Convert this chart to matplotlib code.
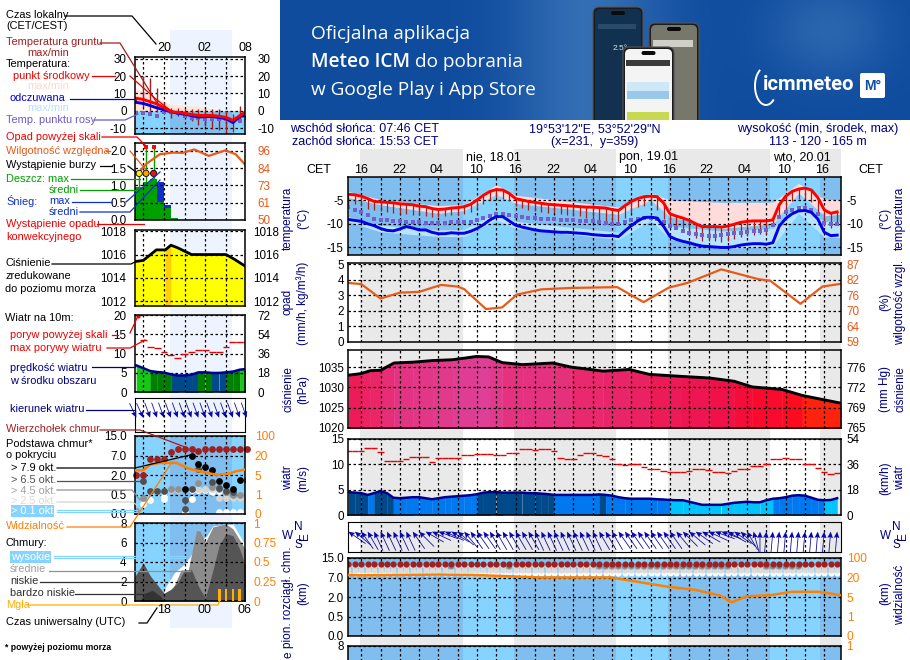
import numpy as np
import matplotlib
matplotlib.use("Agg")
import matplotlib.pyplot as plt
from matplotlib.colors import LinearSegmentedColormap
from matplotlib.patches import FancyBboxPatch, Rectangle, Arc

plt.rcParams['font.family'] = ['Liberation Sans', 'DejaVu Sans']
plt.rcParams['font.size'] = 8.4

W, H = 910, 660

# ---- main panel data, one value an hour, hour 0 = 16:00 on the first day
hours = list(range(-2, 75))
temp_mid = [-3.8,-3.9,-4.2,-4.7,-5.3,-5.4,-5.5,-5.6,-5.8,-5.9,-6.0,-6.3,-6.4,-6.8,-7.0,-6.9,-6.7,-6.6,-6.4,-5.9,
            -5.0,-4.0,-3.2,-2.8,-2.9,-3.6,-4.7,-5.0,-5.3,-5.5,-5.7,-5.9,-6.0,-6.1,-6.2,-6.3,-6.4,-6.5,-6.5,-6.6,
            -6.7,-7.0,-7.2,-6.2,-5.3,-4.7,-4.3,-4.2,-4.3,-5.6,-7.9,-8.4,-8.8,-9.3,-10.0,-10.6,-10.6,-10.6,-10.7,-10.5,
            -10.1,-9.7,-9.5,-9.4,-9.4,-9.4,-9.2,-6.0,-4.2,-3.2,-2.7,-2.5,-2.9,-4.5,-7.1,-7.8,-7.5]
temp_feel = [-9.1,-9.3,-9.5,-10.0,-10.4,-11.0,-11.4,-11.5,-11.1,-10.6,-10.9,-11.3,-11.3,-11.8,-12.1,-12.1,-11.9,-12.0,-12.0,-11.6,
             -11.0,-10.2,-9.2,-8.5,-8.5,-9.4,-10.3,-10.7,-11.0,-11.3,-11.5,-11.6,-11.7,-11.8,-11.8,-11.9,-12.0,-12.1,-12.3,-12.4,
             -12.5,-12.5,-12.7,-11.5,-10.4,-9.4,-8.7,-8.6,-8.8,-10.5,-12.7,-13.3,-13.7,-14.0,-14.4,-14.7,-14.8,-14.9,-15.0,-15.0,
             -14.8,-14.5,-14.3,-14.2,-14.2,-14.3,-14.0,-10.5,-8.9,-7.9,-7.3,-7.2,-7.6,-9.0,-11.8,-12.5,-12.4]
soil_min = [-6,-5.8,-6.3,-6.8,-7.2,-7.4,-7.6,-7.7,-7.9,-7.9,-8.1,-8.2,-8.3,-8.5,-8.6,-8.4,-8.2,-8.2,-7.9,-7.6,
            -6.8,-5.8,-5.0,-4.6,-4.8,-5.2,-6.3,-6.7,-7.0,-7.3,-7.5,-7.7,-7.8,-7.9,-8.1,-8.3,-8.4,-8.7,-8.9,-9.4,
            -10.0,-10.3,-10.0,-8.8,-7.8,-6.5,-6.2,-6.0,-7.0,-9.0,-10.5,-11.2,-11.8,-12.3,-12.9,-13.6,-13.7,-13.6,-13.9,-13.6,
            -13.2,-12.7,-12.5,-12.3,-12.2,-12.1,-10.5,-8.5,-7.0,-5.3,-4.8,-4.7,-5.5,-7.5,-10.5,-11.0,-10.2]
dew_point = [-6.5,-7.1,-7.6,-8.2,-8.9,-9.2,-9.3,-9.4,-9.5,-9.6,-9.7,-9.7,-9.8,-9.9,-9.9,-9.8,-9.7,-9.7,-9.7,-9.6,
             -9.3,-8.8,-8.3,-8.0,-8.0,-8.1,-8.3,-8.5,-8.7,-8.8,-8.9,-9.0,-9.1,-9.2,-9.2,-9.3,-9.4,-9.4,-9.5,-9.7,
             -9.9,-10.0,-10.1,-9.6,-9.2,-8.9,-8.7,-8.7,-8.9,-9.6,-10.5,-11.0,-11.5,-11.9,-12.2,-12.4,-12.5,-12.5,-12.4,-12.2,
             -12.0,-11.9,-11.8,-11.6,-11.5,-11.3,-10.2,-8.6,-7.6,-7.0,-6.7,-6.7,-7.0,-8.0,-9.8,-10.0,-10.0]
band_hours = [-2, 3, 12, 16, 21, 24, 40, 45, 48, 56, 64, 68, 72, 74.6]
temp_hi = [-3.2, -4.9, -6.2, -5.9, -1.8, -4.0, -6.5, -3.5, -5.0, -5.5, -5.5, -1.5, -4.8, -5.0]
temp_lo = [-4.5, -6.0, -7.8, -7.2, -3.8, -5.7, -8.0, -5.0, -8.5, -11.0, -10.0, -3.5, -8.3, -8.0]
feel_hi = [-8.5, -10.3, -11.3, -11.2, -7.7, -9.5, -11.8, -7.8, -10.5, -11.5, -11.0, -6.0, -9.5, -9.5]
feel_lo = [-9.6, -11.7, -12.7, -12.7, -9.2, -11.0, -13.3, -9.2, -13.3, -15.3, -14.7, -7.8, -12.8, -12.9]

rh_hours = [-2, 0, 3, 6, 9, 12.4, 15, 16, 19.4, 21.9, 24.2, 28, 32.5, 39.8, 43.9, 47.8, 50.7, 56, 61.7, 63.6, 68.3, 71.7, 74.6]
rh = [80.2, 79.8, 74.6, 76.7, 77, 79.5, 78.9, 78, 70.8, 71.4, 76, 77.9, 78.4, 78.7, 73.3, 78.5, 80.2, 85.1, 81.6, 81, 72.7, 78.9, 79.9]

slp_hours = [-2, 0, 1.4, 3, 5.1, 8, 11.1, 14.2, 17.9, 19.8, 21.9, 25.1, 29.8, 32.6, 37.6, 41.7, 44.8, 49.8, 54.2, 58, 60.8, 65.4, 68.6, 74.6]
slp = [1033, 1033.4, 1034.1, 1034.2, 1036, 1036.2, 1036.6, 1036.8, 1037.6, 1037.5, 1036.1, 1035.6, 1036, 1035, 1034, 1034.4,
       1033.2, 1032.7, 1032.3, 1031.5, 1030.1, 1029.5, 1028, 1026.1]

wind_speed = [4.5,4.4,4.3,3.95,4.3,4.7,4.3,3.4,3.3,3.4,3.5,3.5,3.3,3.1,3.3,3.5,3.6,3.7,3.8,3.9,
              4.1,4.4,4.5,4.5,4.4,4.4,4.4,4.4,4.3,4.3,4.2,4.1,3.95,3.95,3.95,3.95,3.95,3.95,3.95,4.05,
              3.95,3.8,3.5,3.3,3.2,3.2,3.2,3.2,3.1,3.05,2.95,2.9,2.9,2.6,2.3,2.0,2.0,2.0,2.0,2.2,
              2.4,2.5,2.6,2.5,2.5,2.9,3.2,3.3,3.5,3.8,3.9,3.8,3.4,3.0,2.9,2.95,3.3]
wind_gust = [12.6,12.6,12.6,13.1,13.1,12.4,10.7,10.7,10.7,11,11.5,11.5,11.5,10.5,11.3,11.3,11.3,11.3,11.8,11.8,
             12,12,12,11.8,11.8,12.2,12.2,12.9,12.9,12.7,13,13,12.6,11.3,11.1,11.1,11.9,12.2,12.2,11.9,
             11.6,11.1,10,9.8,10,10,9.5,9,9,8.7,8.5,8.5,8.5,8.7,9,9,8.8,8.5,8.5,8.2,
             8.6,9,9,9.7,9.7,10,11,11,11.2,11,11,10.1,10.1,9.3,8.5,8,8.2]
wind_heading = [305,310,325,330,335,335,335,335,335,335,325,315,300,295,290,295,300,310,320,325,
                325,325,330,330,330,330,330,330,330,335,335,335,335,335,335,335,335,335,335,330,
                330,330,325,325,325,325,325,325,325,325,325,320,315,310,305,300,295,290,290,300,
                305,315,330,345,0,5,5,5,5,5,5,5,5,5,5,5,5]
darker_cloud_hours = [14, 23] + list(range(37, 58)) + list(range(63, 69))

vis_hours = [-2, 0, 12, 18, 28, 38.8, 41.3, 43.8, 47.5, 51.9, 55.7, 57.6, 59.8, 63.8, 66.9, 71.1, 74.6]
visibility = [30.7, 29, 32, 30, 20, 20, 18, 16, 13, 10.5, 6.3, 3.9, 5.4, 6.5, 9, 9, 6.4]

# ---- legend panels on the left, hour 20 = 20:00 local
lh = list(range(16, 33))
l_temp = [7.2,6.5,5.2,3.9,1.8,-0.4,-1.0,-1.4,-2.2,-2.7,-2.7,-2.7,-3.2,-3.8,-5.5,-2.8,-0.2]
l_feel = [4.8,4.2,3,1.6,0.6,-0.6,-1.4,-2,-2.8,-3.6,-3.4,-3.3,-3.9,-4.6,-6.8,-3.3,-2.6]
l_dew = [-1.5,-1.5,-2,-3,-1,-1,-1.5,-3,-4,-4,-4.5,-5,-5,-5,-6,-6,-4]
l_soil_hi = [8,20,19,13,5,1.5,1.5,1,1,1,1,1,1,0,-2,2.5,1]
l_soil_lo = [5,2,0,-1,-1,-4,-3,-3.5,-6,-8,-9,-10.5,-11,-13,-12,-6,-2]
l_band_h = [15.8, 19, 21, 25, 29, 30, 31.8]
l_temp_hi = [13, 7.3, 3.5, 2.5, -0.4, -2.2, -0.4]

l_rain_h = [15.8, 17, 18, 19, 20, 21]
l_rain = [0.96, 1.1, 1.2, 0.53, 0.34, 0.07]
l_snow = [0, 0, 0, 1.1, 0.43, 0]
l_rh_h = [15.8, 16.4, 17.5, 19.4, 21.3, 22.7, 24.4, 26.5, 28.9, 30.4, 31.7]
l_rh = [80.5, 82, 87.6, 93.8, 94.9, 94.7, 97, 92.7, 96.4, 93.8, 87.2]
l_storm_h = [16.4, 17.4, 18.5]
l_storm_col = ['#ffee00', '#ffa000', '#ee1010']

l_slp_h = [15.8, 17, 18.9, 20.2, 21, 21.9, 24, 29, 30.2, 31.8]
l_slp = [1015.4, 1015.5, 1016.4, 1016.4, 1016.8, 1016.6, 1016, 1016, 1015.6, 1015]

l_wind = [6.9,6.2,5.45,5.2,5.05,4.6,4.3,4.3,4.5,5.1,5.1,4.95,4.95,5.1,5.3,5.8,6]
l_gust = [None,13.4,11.6,11.5,10.5,9.6,8.8,9.8,10.5,10.8,10.8,10.5,10.5,11.6,13,13,13]
l_heading = [155,155,160,160,160,160,160,160,160,160,160,160,160,160,160,160,160]

l_tops = [2,2,6.2,6.2,6,8.5,9.5,9.7,9.7,9,9.7,9.7,9.7,9.7,9.7,9.7,9.7]
l_black_h = [24, 25, 26, 27, 28, 29, 30, 31, 23]
l_black = [7, 4.8, 4, 3.3, 1.55, 1.25, 0.95, 1.6, 0.95]
l_dark_h = [17, 18, 19, 20, 23, 23, 24, 25, 27, 28, 29, 30, 32]
l_dark = [1.55, 0.75, 0.75, 0.75, 0.36, 0.12, 0.95, 3.5, 1.5, 1.0, 0.75, 0.7, 1.6]
l_mid_h = [16, 17, 21, 22, 25, 27, 28, 29, 30, 31]
l_mid = [0.08, 0.4, 0.95, 0.95, 1.4, 1.1, 0.9, 0.7, 0.5, 0.5]
l_light_h = [16, 21, 22, 25, 26, 27, 28, 29, 30, 31, 32]
l_light = [0.05, 0.85, 0.85, 0.9, 0.9, 0.9, 0.4, 0.4, 0.4, 0.4, 0.4]
l_white_h = [17, 18, 20, 20, 23, 24, 24, 25, 26, 27, 28, 28, 29, 30, 31]
l_white = [0.25, 0.35, 0.38, 0.45, 0.05, 0.85, 0.38, 0.85, 0.85, 0.7, 0.75, 0.05, 0.05, 0.05, 0.05]
l_vis_h = [15.8, 17, 18, 19.4, 21.8, 23.7, 25.2, 27.6, 29.5, 30.4, 31.8]
l_vis = [8.6, 8.6, 13, 14.3, 14.3, 9.7, 7.8, 5.2, 6, 7.8, 9.2]

l_high_h = [19.8, 20, 20.3, 21.5, 23, 24, 24.7, 26.2, 27.1, 30, 31, 31.8]
l_high = [0, 1, 1.5, 2.9, 3.8, 4.8, 5.8, 6.7, 7.7, 7.9, 6.7, 5.7]
l_midc_h = [19.5, 20, 21, 22.5, 23.5, 24.7, 25.2, 26, 27.1, 29, 30, 31.8]
l_midc = [0, 0.65, 0.8, 3.2, 3.1, 7.2, 7.2, 6, 7.6, 7.9, 7.4, 5.3]
l_low_h = [15.8, 17, 18, 19, 20, 21, 22, 23, 24, 25, 26, 27, 28, 29, 30, 31, 31.8]
l_low = [2.55, 3.9, 2.6, 1.7, 0.8, 1.2, 1.9, 3.2, 3.2, 1.5, 0.3, 2.9, 5.7, 6.9, 6.7, 5.3, 3.6]
l_vlow_h = [16.5, 17.3, 18.3, 19.5, 20]
l_vlow = [0, 0.8, 1.1, 0.5, 0]
l_fog_h = [28, 29, 30, 31]
l_fog = [0.15, 0.15, 0.15, 0.15]

# ---- axis labels
km_ticks = [0, 0.5, 2, 7, 15]
km_labels = ['0.0', '0.5', '2.0', '7.0', '15.0']
vis_ticks = [0, 1, 5, 20, 100]
scale_pos = [0, 1, 2, 3, 4]

SKY = '#86d3ff'
SKY_NIGHT = '#7fbeee'
GRAY = '#e9e9e9'
NAVY = '#000080'
ORANGE = '#ff8000'
HUM = '#e85a18'
BROWN = '#a02020'
GRID_STYLE = (0, (2, 2))

night_sky = [(-2.1, 15.75), (23.7, 39.6), (47.7, 63.6), (71.4, 74.7)]
day_gray = [(-0.2, 15.75), (23.7, 39.6), (47.7, 63.6), (71.4, 74.7)]
LEFT_X = (15.8, 31.75)
MAIN_X = (-2.06, 74.6)

fig = plt.figure(figsize=(W / 100, H / 100), dpi=100, facecolor='white')


def px_axes(x0, y0, x1, y1, **kw):
    return fig.add_axes([x0 / W, 1 - y1 / H, (x1 - x0) / W, (y1 - y0) / H], **kw)


def km_fwd(v):
    return np.interp(v, km_ticks, scale_pos)


def km_inv(p):
    return np.interp(p, scale_pos, km_ticks)


def vis_fwd(v):
    return np.interp(v, vis_ticks, scale_pos)


def vis_inv(p):
    return np.interp(p, scale_pos, vis_ticks)


def panel(box, xlim, ylim, yticks, ylabels=None, rlabels=None, rcolor='black', rpad=4, lpad=3, grid3=None):
    ax = px_axes(*box)
    ax.patch.set_alpha(0)
    ax.set_xlim(*xlim)
    ax.set_ylim(*ylim)
    ax.set_xticks(grid3)
    ax.set_xticklabels([])
    ax.set_yticks(yticks)
    ax.set_yticklabels(ylabels if ylabels else [str(t) for t in yticks])
    ax.tick_params(length=0, pad=lpad, labelsize=8.4)
    ax.grid(True, color='black', ls=GRID_STYLE, lw=0.9)
    ax.set_axisbelow(False)
    for s in ax.spines.values():
        s.set_linewidth(1.1)
        s.set_zorder(5)
    if rlabels:
        tw = ax.twinx()
        tw.set_ylim(*ylim)
        tw.set_yticks(yticks)
        tw.set_yticklabels(rlabels, color=rcolor)
        tw.tick_params(length=0, pad=rpad, labelsize=8.4)
        for s in tw.spines.values():
            s.set_visible(False)
    return ax


def vis_twin(ax, rpad):
    tw = ax.twinx()
    tw.set_yscale('function', functions=(vis_fwd, vis_inv))
    tw.set_ylim(0, 100)
    tw.set_yticks(vis_ticks)
    tw.set_yticklabels([str(v) for v in vis_ticks], color=ORANGE, fontsize=8.6)
    tw.minorticks_off()
    tw.tick_params(length=0, pad=rpad)
    for s in tw.spines.values():
        s.set_visible(False)
    return tw


def km_scale(ax):
    ax.set_yscale('function', functions=(km_fwd, km_inv))
    ax.set_ylim(0, 15)
    ax.set_yticks(km_ticks)
    ax.set_yticklabels(km_labels)
    ax.minorticks_off()


def arrows(box, xlim, xs, headings, tip, length, grid3):
    ax = px_axes(*box)
    ax.patch.set_alpha(0)
    ax.set_xlim(*xlim)
    ax.set_ylim(0, 1)
    ax.set_xticks(grid3)
    ax.set_xticklabels([])
    ax.set_yticks([])
    ax.tick_params(length=0)
    ax.grid(True, axis='x', color='black', ls=GRID_STYLE, lw=0.9)
    rad = np.deg2rad(headings)
    ax.quiver(xs, np.full(len(xs), tip), length * np.sin(rad), length * np.cos(rad), pivot='tip', angles='uv',
              scale_units='dots', scale=1, units='dots', width=0.8, headwidth=7, headlength=8, headaxislength=7,
              color='#0808a8', clip_on=False, zorder=4)
    return ax


grid_main = list(range(0, 75, 3))
grid_left = [17, 20, 23, 26, 29]

# ---- backgrounds behind the panels
bg_main = px_axes(348, 149, 841, 660, zorder=-5)
bg_main.set_xlim(*MAIN_X)
bg_main.set_ylim(0, 1)
bg_main.axis('off')
for a, b in day_gray:
    bg_main.axvspan(a, b, color=GRAY, lw=0)

bg_left = px_axes(135, 30, 245, 628, zorder=-5)
bg_left.set_xlim(*LEFT_X)
bg_left.set_ylim(0, 1)
bg_left.axis('off')
bg_left.axvspan(20.87, 29.86, color='#eef4ff', lw=0)


def sky_main(ax):
    ax.axvspan(*MAIN_X, color=SKY, lw=0, zorder=0)
    for a, b in night_sky:
        ax.axvspan(a, b, color=SKY_NIGHT, lw=0, zorder=0.5)


def sky_left(ax):
    ax.axvspan(*LEFT_X, color=SKY, lw=0, zorder=0)
    ax.axvspan(20.87, 29.86, color=SKY_NIGHT, lw=0, zorder=0.5)


# ---- main: temperature
ax = panel((348, 177.3, 841, 255), MAIN_X, (-16.58, -0.22), [-15, -10, -5], rlabels=['-15', '-10', '-5'], grid3=grid_main)
sky_main(ax)
ax.fill_between(band_hours, temp_lo, temp_hi, color='#ffdcdc', lw=0, zorder=1)
ax.fill_between(band_hours, feel_lo, feel_hi, color='#b8e4ff', lw=0, zorder=1)
ax.vlines(hours, soil_min, temp_mid, color=BROWN, lw=0.9, zorder=3)
ax.plot(hours, temp_feel, color='#0000e6', lw=2.1, zorder=3.2)
ax.plot(hours, temp_mid, color='#ff0000', lw=2.1, zorder=3.2)
ax.scatter(hours, dew_point, s=5, marker='s', color='#7060d0', lw=0, zorder=3.1)

# ---- main: precipitation and humidity
ax = panel((348, 263, 841, 342), MAIN_X, (-0.01, 5.07), [0, 1, 2, 3, 4, 5],
           rlabels=['59', '64', '70', '76', '82', '87'], rcolor=HUM, grid3=grid_main)
ax.plot(rh_hours, (np.array(rh) - 59) / 5.6, color=HUM, lw=1.6, zorder=3)

# ---- main: pressure
ax = panel((348, 350, 841, 428), MAIN_X, (1020, 1039.2), [1020, 1025, 1030, 1035],
           rlabels=['765', '769', '772', '776'], grid3=grid_main)
slp_cmap = LinearSegmentedColormap.from_list('slp', ['#ff3000', '#ff0820', '#f01048', '#e82a70', '#de3f98'])
for i in range(len(slp) - 1):
    col = slp_cmap((0.5 * (slp[i] + slp[i + 1]) - 1026) / 11.6)
    ax.fill_between(slp_hours[i:i + 2], slp[i:i + 2], 1015, color=col, lw=0.3, zorder=1)
ax.plot(slp_hours, slp, color='black', lw=2.1, zorder=3)

# ---- main: wind
ax = panel((348, 438.5, 841, 515), MAIN_X, (0, 15.05), [0, 5, 10, 15], rlabels=['0', '18', '36', '54'], grid3=grid_main)


def speed_color(v):
    if v >= 5.5:
        return '#14c814'
    if v >= 5:
        return '#008000'
    if v >= 4:
        return '#004a8c'
    if v >= 3:
        return '#0078f0'
    return '#00c4ff'


for i in range(len(hours) - 1):
    ax.fill_between(hours[i:i + 2], wind_speed[i:i + 2], 0, color=speed_color(wind_speed[i]), lw=0.2, zorder=1)
ax.plot(hours, wind_speed, color='#000090', lw=1.8, zorder=3)
ax.hlines(wind_gust, np.array(hours) - 0.5, np.array(hours) + 0.5, color='#ee0000', lw=1, zorder=3)

# ---- main: wind direction
arrows((348, 522, 841, 552), MAIN_X, hours, wind_heading, 0.68, 21, grid_main)

# ---- main: cloud base and visibility
ax = panel((348, 558, 841, 636), MAIN_X, (0, 15), km_ticks, ylabels=km_labels, grid3=grid_main)
km_scale(ax)
sky_main(ax)
row_colors = ['#909090' if h in darker_cloud_hours else '#d4d4d4' for h in hours]
n = len(hours)
ax.scatter(hours, np.full(n, 8.9), s=20, color='white', lw=0, zorder=3)
ax.scatter(hours, np.full(n, 10.2), s=20, color='#dcdcdc', lw=0, zorder=3.1)
ax.scatter(hours, np.full(n, 11.5), s=20, c=row_colors, lw=0, zorder=3.2)
ax.scatter(hours, np.full(n, 12.7), s=20, color=BROWN, lw=0, zorder=3.3)
tw = vis_twin(ax, 4)
tw.plot(vis_hours, visibility, color=ORANGE, lw=1.8)

# ---- main: cloud cover, cut by the bottom of the picture
ax = panel((348, 646, 841, 724), MAIN_X, (0, 8), [8], rlabels=['1'], rcolor=ORANGE, grid3=grid_main)
ax.set_yticklabels(['8'])
sky_main(ax)

# ---- left: temperature
ax = panel((135, 57, 245, 134), LEFT_X, (-13.4, 31), [-10, 0, 10, 20, 30],
           rlabels=['-10', '0', '10', '20', '30'], rpad=9, lpad=6, grid3=grid_left)
ax.axhspan(-13.4, 0, color=SKY, lw=0, zorder=0.2)
ax.fill_between([20.87, 29.86], -13.4, 0, color=SKY_NIGHT, lw=0, zorder=0.3)
ax.fill_between(l_band_h, np.minimum(l_temp_hi, 0), l_temp_hi, color='#ffe4d8', lw=0, zorder=1)
ax.vlines(lh, l_soil_lo, l_soil_hi, color=BROWN, lw=1, zorder=3)
ax.plot(lh, l_feel, color='#0000e6', lw=2.1, zorder=3.2)
ax.plot(lh, l_temp, color='#ff0000', lw=2.1, zorder=3.3)
ax.scatter(lh, l_dew, s=7, marker='s', color='#7060d0', lw=0, zorder=3.1)

# ---- left: precipitation
ax = panel((135, 143, 245, 220), LEFT_X, (0, 2.23), [0, 0.5, 1, 1.5, 2], ylabels=['0.0', '0.5', '1.0', '1.5', '2.0'],
           rlabels=['50', '61', '73', '84', '96'], rcolor=HUM, rpad=9, lpad=6, grid3=grid_left)
bar_w = [1.2, 1, 1, 1, 1, 1]
ax.bar(l_rain_h, l_snow, width=bar_w, align='edge', color='#1030c8', zorder=1)
ax.bar(l_rain_h, l_rain, width=bar_w, align='edge', color='#00a000', zorder=1.1)
ax.vlines(l_storm_h, [0.96, 1.1, 1.2], [1.35, 2.1, 2.1], color='#00a000', lw=1, zorder=2.8)
ax.scatter(l_storm_h[1:], [2.1, 2.1], s=11, marker='s', color='#ee1010', lw=0, zorder=4)
ax.scatter(l_storm_h, [1.35, 1.35, 1.35], s=20, c=l_storm_col, edgecolors='black', linewidths=0.6, zorder=4)
ax.hlines(0.01, 16, 20, color='#ee1010', lw=1.2, ls=(0, (3, 2)), zorder=4)
ax.plot(l_rh_h, (np.array(l_rh) - 50) / 23, color=HUM, lw=1.6, zorder=3)

# ---- left: pressure
ax = panel((135, 230, 245, 306), LEFT_X, (1011.6, 1018.1), [1012, 1014, 1016, 1018],
           rlabels=['1012', '1014', '1016', '1018'], rpad=6, lpad=6, grid3=grid_left)
ax.fill_between(l_slp_h, l_slp, 1011, color='#ffff00', lw=0, zorder=1)
ax.fill_between(l_slp_h[3:5], l_slp[3:5], 1011, color='#ffd000', lw=0, zorder=1.1)
ax.plot(l_slp_h, l_slp, color='black', lw=2, zorder=3)

# ---- left: wind
ax = panel((135, 315, 245, 392), LEFT_X, (0, 20), [0, 5, 10, 15, 20], rlabels=['0', '18', '36', '54', '72'],
           rpad=9, lpad=6, grid3=grid_left)
for i in range(len(lh) - 1):
    ax.fill_between(lh[i:i + 2], l_wind[i:i + 2], 0, color=speed_color(l_wind[i]), lw=0.2, zorder=1)
ax.plot(lh, l_wind, color='#000090', lw=1.8, zorder=3)
for h, g in zip(lh, l_gust):
    if g is not None:
        ax.hlines(g, h - 0.5, h + 0.5, color='#ee0000', lw=1, zorder=3)
ax.scatter([16.3], [19.7], s=9, color='#ee0000', lw=0, zorder=4, clip_on=False)

# ---- left: wind direction
arrows((135, 398, 245, 432), LEFT_X, lh, l_heading, 0.42, 16, grid_left)

# ---- left: cloud base and visibility
ax = panel((135, 436, 245, 514), LEFT_X, (0, 15), km_ticks, ylabels=km_labels, lpad=6, grid3=grid_left)
km_scale(ax)
sky_left(ax)
ax.scatter(l_white_h, l_white, s=24, color='white', lw=0, zorder=3)
ax.scatter(l_light_h, l_light, s=24, color='#d4d4d0', lw=0, zorder=3.1)
ax.scatter(l_mid_h, l_mid, s=24, color='#909090', lw=0, zorder=3.2)
ax.scatter(l_dark_h, l_dark, s=24, color='#505050', lw=0, zorder=3.3)
ax.scatter(l_black_h, l_black, s=24, color='black', lw=0, zorder=3.4)
ax.scatter(lh, l_tops, s=24, color=BROWN, lw=0, zorder=3.5, clip_on=False)
tw = vis_twin(ax, 7)
tw.plot(l_vis_h, l_vis, color=ORANGE, lw=1.8)

# ---- left: cloud cover and fog
ax = panel((135, 523, 245, 601), LEFT_X, (0, 8), [0, 2, 4, 6, 8], lpad=6, grid3=grid_left)
sky_left(ax)
ax.fill_between(l_high_h, l_high, 0, color='white', lw=0, zorder=1)
ax.fill_between(l_midc_h, l_midc, 0, color='#8c8c8c', lw=0, zorder=1.1)
ax.fill_between(l_low_h, l_low, 0, color='#555555', lw=0, zorder=1.2)
ax.fill_between(l_vlow_h, l_vlow, 0, color='#333333', lw=0, zorder=1.3)
tw = ax.twinx()
tw.set_ylim(0, 1)
tw.set_yticks([0, 0.25, 0.5, 0.75, 1])
tw.set_yticklabels(['0', '0.25', '0.5', '0.75', '1'], color=ORANGE, fontsize=8.6)
tw.tick_params(length=0, pad=6)
for s in tw.spines.values():
    s.set_visible(False)
tw.bar(l_fog_h, l_fog, width=0.4, color='#ffb000', zorder=3)

# ---- overlay in picture pixels: labels, leaders, banner
ov = px_axes(0, 0, W, H, zorder=20)
ov.set_xlim(0, W)
ov.set_ylim(H, 0)
ov.axis('off')

# banner
bn = px_axes(280, 0, 910, 120, zorder=10)
bn.axis('off')
gx, gy = np.meshgrid(np.linspace(280, 910, 200), np.linspace(0, 120, 40))
glow = np.exp(-((gx - 590) / 75.0) ** 2) * 0.75 + np.exp(-((gx - 830) / 60.0) ** 2 - ((gy - 30) / 50.0) ** 2) * 0.55
base = np.array([15, 76, 158]) / 255
lite = np.array([64, 122, 188]) / 255
img = base[None, None, :] + glow[:, :, None] * (lite - base)[None, None, :]
bn.imshow(np.clip(img, 0, 1), extent=(280, 910, 120, 0), aspect='auto', zorder=0)
bn.set_xlim(280, 910)
bn.set_ylim(120, 0)


def phone(x0, y0, x1, y1, screen, zo):
    bn.add_patch(FancyBboxPatch((x0, y0), x1 - x0, 140 - y0, boxstyle='round,pad=0,rounding_size=6',
                                fc='#1c1c1e', ec='#555555', lw=0.8, zorder=zo))
    bn.add_patch(FancyBboxPatch((x0 + 2, y0 + 2), x1 - x0 - 4, 140 - y0, boxstyle='round,pad=0,rounding_size=5',
                                fc=screen, ec='none', zorder=zo + 0.1))
    bn.add_patch(FancyBboxPatch((0.5 * (x0 + x1) - 7, y0 + 4), 14, 4, boxstyle='round,pad=0,rounding_size=2',
                                fc='#0a0a0a', ec='none', zorder=zo + 0.2))


phone(593, 7, 643, 120, '#12304f', 1)
phone(649, 23, 699, 120, '#77776c', 2)
phone(623, 47, 674, 120, '#f4f4f4', 3)
bn.add_patch(Rectangle((598, 24), 38, 5, fc='#2a4a6a', zorder=1.5))
bn.text(620, 49, '2.5°', color='#d8e4f0', fontsize=6, ha='center', va='center', zorder=1.5)
bn.add_patch(Rectangle((653, 40), 40, 7, fc='#d0d0c8', zorder=2.5))
bn.add_patch(Rectangle((626, 60), 44, 6, fc='#3a3a3a', zorder=3.5))
bn.add_patch(Rectangle((627, 82), 42, 9, fc='#cfe8f8', zorder=3.5))
bn.add_patch(Rectangle((627, 91), 42, 8, fc='#9ac8e8', zorder=3.5))
bn.add_patch(Rectangle((627, 112), 42, 8, fc='#c8d850', zorder=3.5))

BFONT = 'Open Sans'
BSIZE = 13.7
bn.text(311, 34, 'Oficjalna aplikacja', color='white', fontsize=BSIZE, family=BFONT, va='center')
t1 = bn.text(311, 62, 'Meteo ICM', color='white', fontsize=BSIZE, family=BFONT, weight='semibold', va='center')
fig.canvas.draw()
ext = t1.get_window_extent()
bn.text(280 + ext.x1 - bn.get_window_extent().x0 + 5, 62, 'do pobrania', color='white', fontsize=BSIZE, family=BFONT, va='center')
bn.text(311, 90, 'w Google Play i App Store', color='white', fontsize=BSIZE, family=BFONT, va='center')
bn.text(763, 85, 'icmmeteo', color='white', fontsize=14.6, family='Roboto', weight='bold', va='center')
bn.add_patch(Arc((766, 86), 22, 38, theta1=60, theta2=250, color='white', lw=1.4))
bn.add_patch(FancyBboxPatch((860, 73), 25, 25, boxstyle='round,pad=0,rounding_size=2', fc='white', ec='none'))
bn.text(872.5, 85.5, 'M°', color='#1050a0', fontsize=10, weight='bold', ha='center', va='center')

# header lines above the main panels
for txt, x, y, ha in [('wschód słońca: 07:46 CET', 290, 129, 'left'), ('zachód słońca: 15:53 CET', 292, 142, 'left'),
                      ('19°53\'12"E, 53°52\'29"N', 595, 129, 'center'), ('(x=231,  y=359)', 595, 142, 'center'),
                      ('wysokość (min, środek, max)', 818, 129, 'center'), ('113 - 120 - 165 m', 818, 142, 'center')]:
    ov.text(x, y, txt, color=NAVY, ha=ha, va='center', fontsize=9)
ov.text(319, 170, 'CET', ha='center', va='center', fontsize=9)
ov.text(871, 170, 'CET', ha='center', va='center', fontsize=9)
for txt, x in [('nie, 18.01', 493), ('pon, 19.01', 649), ('wto, 20.01', 802)]:
    ov.text(x, 157, txt, ha='center', va='center', fontsize=9)
hour_labels = ['16', '22', '04', '10', '16', '22', '04', '10', '16', '22', '04', '10', '16']
hour_px = [361, 399, 437, 476, 515, 553, 591, 630, 669, 706, 745, 784, 822]
for txt, x in zip(hour_labels, hour_px):
    ov.text(x, 170, txt, ha='center', va='center', fontsize=9)

# rotated side titles
side = [(288, 218, 'temperatura'), (303, 218, '(°C)'), (288, 302, 'opad'), (303, 303, '(mm/h, kg/m³/h)'),
        (288, 389, 'ciśnienie'), (303, 389, '(hPa)'), (288, 478, 'wiatr'), (303, 478, '(m/s)'),
        (303, 593, '(km)'), (288, 597, 'pion. rozciągł. chm.'), (288, 655, 'e'),
        (885, 218, '(°C)'), (900, 218, 'temperatura'), (885, 302, '(%)'), (900, 302, 'wilgotność wzgl.'),
        (885, 389, '(mm Hg)'), (900, 389, 'ciśnienie'), (885, 478, '(km/h)'), (900, 478, 'wiatr'),
        (885, 593, '(km)'), (900, 595, 'widzialność')]
for x, y, txt in side:
    ov.text(x, y, txt, color=NAVY, rotation=90, ha='center', va='center', fontsize=8.5)
for x0 in (288, 886):
    ov.text(x0, 536, 'W', color=NAVY, ha='center', va='center', fontsize=8.5)
    ov.text(x0 + 10, 527, 'N', color=NAVY, ha='center', va='center', fontsize=8.5)
    ov.text(x0 + 10, 545, 'S', color=NAVY, ha='center', va='center', fontsize=8.5)
    ov.text(x0 + 17, 536, 'E', color=NAVY, rotation=90, ha='center', va='center', fontsize=8.5)

# time labels of the legend panels
for txt, x in [('20', 164), ('02', 204), ('08', 245)]:
    ov.text(x, 48, txt, ha='center', va='center', fontsize=9)
for txt, x in [('18', 164), ('00', 204), ('06', 245)]:
    ov.text(x, 610, txt, ha='center', va='center', fontsize=9)

# legend labels
DEEP = '#1030c8'
GREEN = '#00a000'
RED = '#ee0000'
CORAL = HUM
PURPLE = '#6a5acd'
labels = [('Czas lokalny', 6, 15, 'black'), ('(CET/CEST)', 6, 26, 'black'),
          ('Temperatura gruntu', 6, 42, BROWN), ('max/min', 27, 52.5, BROWN),
          ('Temperatura:', 6, 64, 'black'), ('punkt środkowy', 13, 76, RED),
          ('max/min', 27, 86, '#ffd8c8'), ('odczuwana', 10, 98, '#0000e0'), ('max/min', 27, 108, '#b8e0ff'),
          ('Temp. punktu rosy', 6, 120, PURPLE), ('Opad powyżej skali', 6, 137, RED),
          ('Wilgotność względna', 6, 151, CORAL), ('Wystąpienie burzy', 6, 165, 'black'),
          ('Deszcz: max', 6, 179, GREEN), ('średni', 49, 190, GREEN), ('Śnieg:', 6, 201, DEEP), ('max', 49, 201, DEEP),
          ('średni', 49, 212, DEEP), ('Wystąpienie opadu', 6, 224, RED), ('konwekcyjnego', 6, 237, RED),
          ('Ciśnienie', 5, 263, 'black'), ('zredukowane', 5, 276, 'black'), ('do poziomu morza', 5, 289, 'black'),
          ('Wiatr na 10m:', 5, 318, 'black'), ('poryw powyżej skali', 10, 335, RED), ('max porywy wiatru', 10, 348, RED),
          ('prędkość wiatru', 10, 368, NAVY), ('w środku obszaru', 10, 381, NAVY), ('kierunek wiatru', 10, 409, NAVY),
          ('Wierzchołek chmur', 6, 429, BROWN), ('Podstawa chmur*', 6, 444, 'black'), ('o pokryciu', 6, 455, 'black'),
          ('> 7.9 okt.', 11, 468, 'black'), ('> 6.5 okt.', 11, 480, '#505050'), ('> 4.5 okt.', 11, 490.5, '#a0a0a0'),
          ('> 2.5 okt.', 11, 500.5, '#dcdcd4'), ('Widzialność', 6, 526, ORANGE), ('Chmury:', 6, 543, 'black'),
          ('średnie', 10, 569, '#a0a0a0'), ('niskie', 10, 581, '#303030'), ('bardzo niskie', 10, 593, '#303030'),
          ('Mgła', 6, 605, '#ffb000'), ('Czas uniwersalny (UTC)', 6, 622, 'black')]
for txt, x, y, col in labels:
    ov.text(x, y, txt, color=col, ha='left', va='center', fontsize=7.9)
ov.add_patch(Rectangle((11, 505), 43, 12, fc=SKY, ec='none'))
ov.text(11, 511, '> 0.1 okt.', color='white', ha='left', va='center', fontsize=7.9)
ov.add_patch(Rectangle((10, 551), 41, 12, fc=SKY, ec='none'))
ov.text(11, 557, 'wysokie', color='white', ha='left', va='center', fontsize=7.9)
ov.text(5, 648, '* powyżej poziomu morza', color='black', weight='bold', ha='left', va='center', fontsize=6.2)

# leader lines, each one a colour and its pixel path
leaders = [('black', [65, 132, 156], [16, 16, 44]), (BROWN, [100, 120, 157], [43, 43, 103]),
           (RED, [92, 115], [76, 76]), (RED, [130, 157, 170], [76, 100, 110]), ('#0000e0', [70, 135], [99, 99]),
           (PURPLE, [94, 125, 138], [120, 120, 114]), (RED, [102, 137, 146], [137, 137, 146]),
           (CORAL, [106, 110], [151, 151]), (CORAL, [130, 146], [151, 170]), ('black', [100, 112], [166, 166]),
           ('black', [128, 136], [166, 172]), (GREEN, [71, 140], [179, 179]), (GREEN, [80, 150], [190, 190]),
           (DEEP, [72, 112], [202, 202]), (DEEP, [126, 160], [202, 172]), (DEEP, [80, 130, 160], [212, 212, 180]),
           (RED, [97, 144], [224, 224]), ('black', [52, 131, 135], [264, 264, 262]), (RED, [112, 118], [335, 335]),
           (RED, [130, 138], [333, 316]), (RED, [107, 130, 145], [348, 348, 340]), (NAVY, [92, 135], [367, 367]),
           (NAVY, [86, 135], [410, 410]), (BROWN, [100, 140, 185], [430, 430, 447]),
           ('black', [57, 135, 190], [468, 468, 455]), ('#505050', [57, 143], [481, 481]),
           ('#909090', [57, 132, 140], [490, 490, 500]), ('#d4d4cc', [57, 132, 137], [502, 502, 505]),
           (SKY, [57, 137], [510, 510]), (SKY, [57, 137], [512, 512]), (ORANGE, [67, 130, 172], [527, 527, 462]),
           (SKY, [54, 185], [556, 556]), (SKY, [54, 185], [558, 558]), ('#909090', [49, 190], [571, 571]),
           ('#303030', [40, 133], [582, 582]), ('#303030', [75, 150], [594, 594]),
           ('#ffb000', [27, 218, 220], [605, 605, 600]), ('black', [139, 147, 157], [623, 623, 608])]
for col, xs, ys in leaders:
    ov.plot(xs, ys, color=col, lw=0.9)

fig.savefig('out.png', dpi=100)
